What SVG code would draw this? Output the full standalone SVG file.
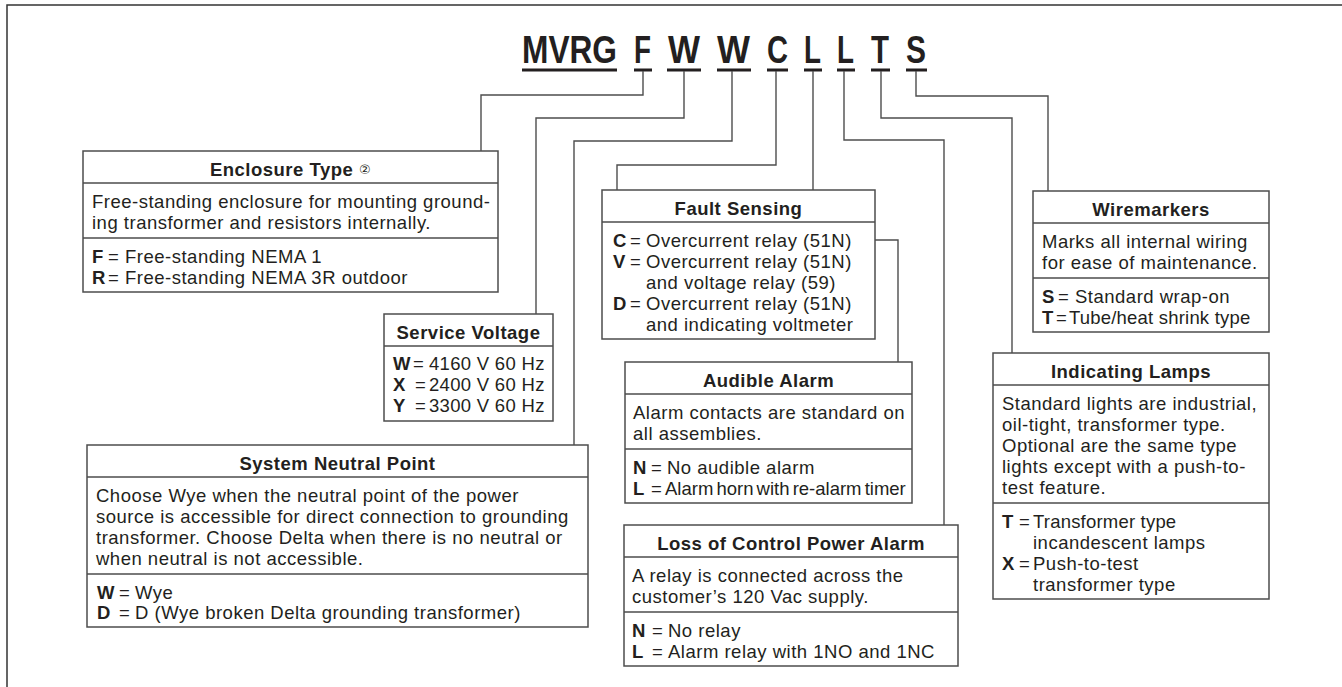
<svg xmlns="http://www.w3.org/2000/svg" width="1342" height="687" viewBox="0 0 1342 687">
<style>
.t{font-family:"Liberation Sans",Arial,sans-serif;font-size:18.5px;fill:#231f20;letter-spacing:0.5px}
.h{font-weight:bold;text-anchor:middle}
.k{font-weight:bold}
.box{fill:#fff;stroke:#4d4d4d;stroke-width:1.5}
.sep{stroke:#4d4d4d;stroke-width:1.5}
.con{fill:none;stroke:#4d4d4d;stroke-width:1.4}
.code{font-family:"Liberation Sans",Arial,sans-serif;font-weight:bold;font-size:32px;fill:#231f20}
.ul{fill:#231f20}
</style>
<rect width="1342" height="687" fill="#fff"/>
<path d="M7,687 V5 H1342" fill="none" stroke="#333" stroke-width="1.5"/>
<g id="code">
<text class="code" transform="translate(522,63) scale(1,1.22)" textLength="95" lengthAdjust="spacingAndGlyphs">MVRG</text>
<text class="code" transform="translate(634,63) scale(1,1.22)" textLength="17" lengthAdjust="spacingAndGlyphs">F</text>
<text class="code" transform="translate(668,63) scale(1,1.22)" textLength="32" lengthAdjust="spacingAndGlyphs">W</text>
<text class="code" transform="translate(717,63) scale(1,1.22)" textLength="33" lengthAdjust="spacingAndGlyphs">W</text>
<text class="code" transform="translate(767,63) scale(1,1.22)" textLength="21" lengthAdjust="spacingAndGlyphs">C</text>
<text class="code" transform="translate(804,63) scale(1,1.22)" textLength="17" lengthAdjust="spacingAndGlyphs">L</text>
<text class="code" transform="translate(837,63) scale(1,1.22)" textLength="17" lengthAdjust="spacingAndGlyphs">L</text>
<text class="code" transform="translate(871,63) scale(1,1.22)" textLength="18" lengthAdjust="spacingAndGlyphs">T</text>
<text class="code" transform="translate(906,63) scale(1,1.22)" textLength="20" lengthAdjust="spacingAndGlyphs">S</text>
<rect class="ul" x="522" y="68.5" width="95" height="3"/>
<rect class="ul" x="634" y="68.5" width="18" height="3"/>
<rect class="ul" x="667" y="68.5" width="34" height="3"/>
<rect class="ul" x="717" y="68.5" width="34" height="3"/>
<rect class="ul" x="767" y="68.5" width="21" height="3"/>
<rect class="ul" x="804" y="68.5" width="18" height="3"/>
<rect class="ul" x="837" y="68.5" width="18" height="3"/>
<rect class="ul" x="871" y="68.5" width="19" height="3"/>
<rect class="ul" x="906" y="68.5" width="21" height="3"/>
</g>
<g id="connectors">
<path class="con" d="M643,71 V95 H481 V151"/>
<path class="con" d="M684,71 V118 H536 V314"/>
<path class="con" d="M732,71 V141 H574 V445"/>
<path class="con" d="M776,71 V165 H617 V190"/>
<path class="con" d="M813,71 V240 H898 V362"/>
<path class="con" d="M844,71 V140 H944 V525"/>
<path class="con" d="M881,71 V118 H1012 V353"/>
<path class="con" d="M916,71 V96 H1048 V191"/>
</g>
<g id="enclosure-type" class="t">
<rect class="box" x="83" y="151" width="415" height="141"/>
<line class="sep" x1="83" y1="183" x2="498" y2="183"/>
<line class="sep" x1="83" y1="238" x2="498" y2="238"/>
<text class="h" x="290.5" y="176">Enclosure Type <tspan font-family="'DejaVu Sans',sans-serif" font-weight="normal" font-size="13" dy="-2">②</tspan></text>
<text x="92" y="208">Free-standing enclosure for mounting ground-</text>
<text x="92" y="229">ing transformer and resistors internally.</text>
<text y="263"><tspan class="k" x="92">F</tspan><tspan x="108">=</tspan><tspan x="125">Free-standing NEMA 1</tspan></text>
<text y="284"><tspan class="k" x="92">R</tspan><tspan x="108">=</tspan><tspan x="125">Free-standing NEMA 3R outdoor</tspan></text>
</g>
<g id="service-voltage" class="t">
<rect class="box" x="384" y="314" width="169" height="107"/>
<line class="sep" x1="384" y1="346" x2="553" y2="346"/>
<text class="h" x="468.5" y="339">Service Voltage</text>
<text y="370" letter-spacing="0.3"><tspan class="k" x="393">W</tspan><tspan x="413">=</tspan><tspan x="429">4160 V 60 Hz</tspan></text>
<text y="391" letter-spacing="0.3"><tspan class="k" x="393">X</tspan><tspan x="415">=</tspan><tspan x="429">2400 V 60 Hz</tspan></text>
<text y="412" letter-spacing="0.3"><tspan class="k" x="393">Y</tspan><tspan x="415">=</tspan><tspan x="429">3300 V 60 Hz</tspan></text>
</g>
<g id="system-neutral-point" class="t">
<rect class="box" x="87" y="445" width="501" height="182"/>
<line class="sep" x1="87" y1="477" x2="588" y2="477"/>
<line class="sep" x1="87" y1="574" x2="588" y2="574"/>
<text class="h" x="337.5" y="470">System Neutral Point</text>
<text x="96" y="502">Choose Wye when the neutral point of the power</text>
<text x="96" y="523">source is accessible for direct connection to grounding</text>
<text x="96" y="544">transformer. Choose Delta when there is no neutral or</text>
<text x="96" y="565">when neutral is not accessible.</text>
<text y="599"><tspan class="k" x="97">W</tspan><tspan x="119">=</tspan><tspan x="135">Wye</tspan></text>
<text y="619"><tspan class="k" x="97">D</tspan><tspan x="119">=</tspan><tspan x="135">D (Wye broken Delta grounding transformer)</tspan></text>
</g>
<g id="fault-sensing" class="t">
<rect class="box" x="602" y="190" width="273" height="149"/>
<line class="sep" x1="602" y1="222" x2="875" y2="222"/>
<text class="h" x="738.5" y="215">Fault Sensing</text>
<text y="247"><tspan class="k" x="613">C</tspan><tspan x="630">=</tspan><tspan x="646">Overcurrent relay (51N)</tspan></text>
<text y="268"><tspan class="k" x="613">V</tspan><tspan x="630">=</tspan><tspan x="646">Overcurrent relay (51N)</tspan></text>
<text x="646" y="289">and voltage relay (59)</text>
<text y="310"><tspan class="k" x="613">D</tspan><tspan x="630">=</tspan><tspan x="646">Overcurrent relay (51N)</tspan></text>
<text x="646" y="331">and indicating voltmeter</text>
</g>
<g id="audible-alarm" class="t">
<rect class="box" x="625" y="362" width="287" height="141"/>
<line class="sep" x1="625" y1="394" x2="912" y2="394"/>
<line class="sep" x1="625" y1="449" x2="912" y2="449"/>
<text class="h" x="768.5" y="387">Audible Alarm</text>
<text x="633" y="419">Alarm contacts are standard on</text>
<text x="633" y="440">all assemblies.</text>
<text y="474"><tspan class="k" x="633">N</tspan><tspan x="651">=</tspan><tspan x="667">No audible alarm</tspan></text>
<text y="495" letter-spacing="0" word-spacing="-2"><tspan class="k" x="633">L</tspan><tspan x="651">=</tspan><tspan x="665">Alarm horn with re-alarm timer</tspan></text>
</g>
<g id="loss-of-control-power-alarm" class="t">
<rect class="box" x="624" y="525" width="334" height="141"/>
<line class="sep" x1="624" y1="557" x2="958" y2="557"/>
<line class="sep" x1="624" y1="612" x2="958" y2="612"/>
<text class="h" x="791" y="550">Loss of Control Power Alarm</text>
<text x="632" y="582">A relay is connected across the</text>
<text x="632" y="603">customer’s 120 Vac supply.</text>
<text y="637"><tspan class="k" x="632">N</tspan><tspan x="652">=</tspan><tspan x="668">No relay</tspan></text>
<text y="658"><tspan class="k" x="632">L</tspan><tspan x="652">=</tspan><tspan x="668">Alarm relay with 1NO and 1NC</tspan></text>
</g>
<g id="wiremarkers" class="t">
<rect class="box" x="1033" y="191" width="236" height="141"/>
<line class="sep" x1="1033" y1="223" x2="1269" y2="223"/>
<line class="sep" x1="1033" y1="278" x2="1269" y2="278"/>
<text class="h" x="1151" y="216">Wiremarkers</text>
<text x="1042" y="248">Marks all internal wiring</text>
<text x="1042" y="269">for ease of maintenance.</text>
<text y="303"><tspan class="k" x="1042">S</tspan><tspan x="1058">=</tspan><tspan x="1075">Standard wrap-on</tspan></text>
<text y="324" letter-spacing="0.2"><tspan class="k" x="1042">T</tspan><tspan x="1056">=</tspan><tspan x="1069">Tube/heat shrink type</tspan></text>
</g>
<g id="indicating-lamps" class="t">
<rect class="box" x="993" y="353" width="276" height="246"/>
<line class="sep" x1="993" y1="385" x2="1269" y2="385"/>
<line class="sep" x1="993" y1="503" x2="1269" y2="503"/>
<text class="h" x="1131" y="378">Indicating Lamps</text>
<text x="1002" y="410">Standard lights are industrial,</text>
<text x="1002" y="431">oil-tight, transformer type.</text>
<text x="1002" y="452">Optional are the same type</text>
<text x="1002" y="473">lights except with a push-to-</text>
<text x="1002" y="494">test feature.</text>
<text y="528" letter-spacing="0.2"><tspan class="k" x="1002">T</tspan><tspan x="1019">=</tspan><tspan x="1033">Transformer type</tspan></text>
<text x="1033" y="549">incandescent lamps</text>
<text y="570"><tspan class="k" x="1002">X</tspan><tspan x="1019">=</tspan><tspan x="1033">Push-to-test</tspan></text>
<text x="1033" y="591">transformer type</text>
</g>
</svg>
